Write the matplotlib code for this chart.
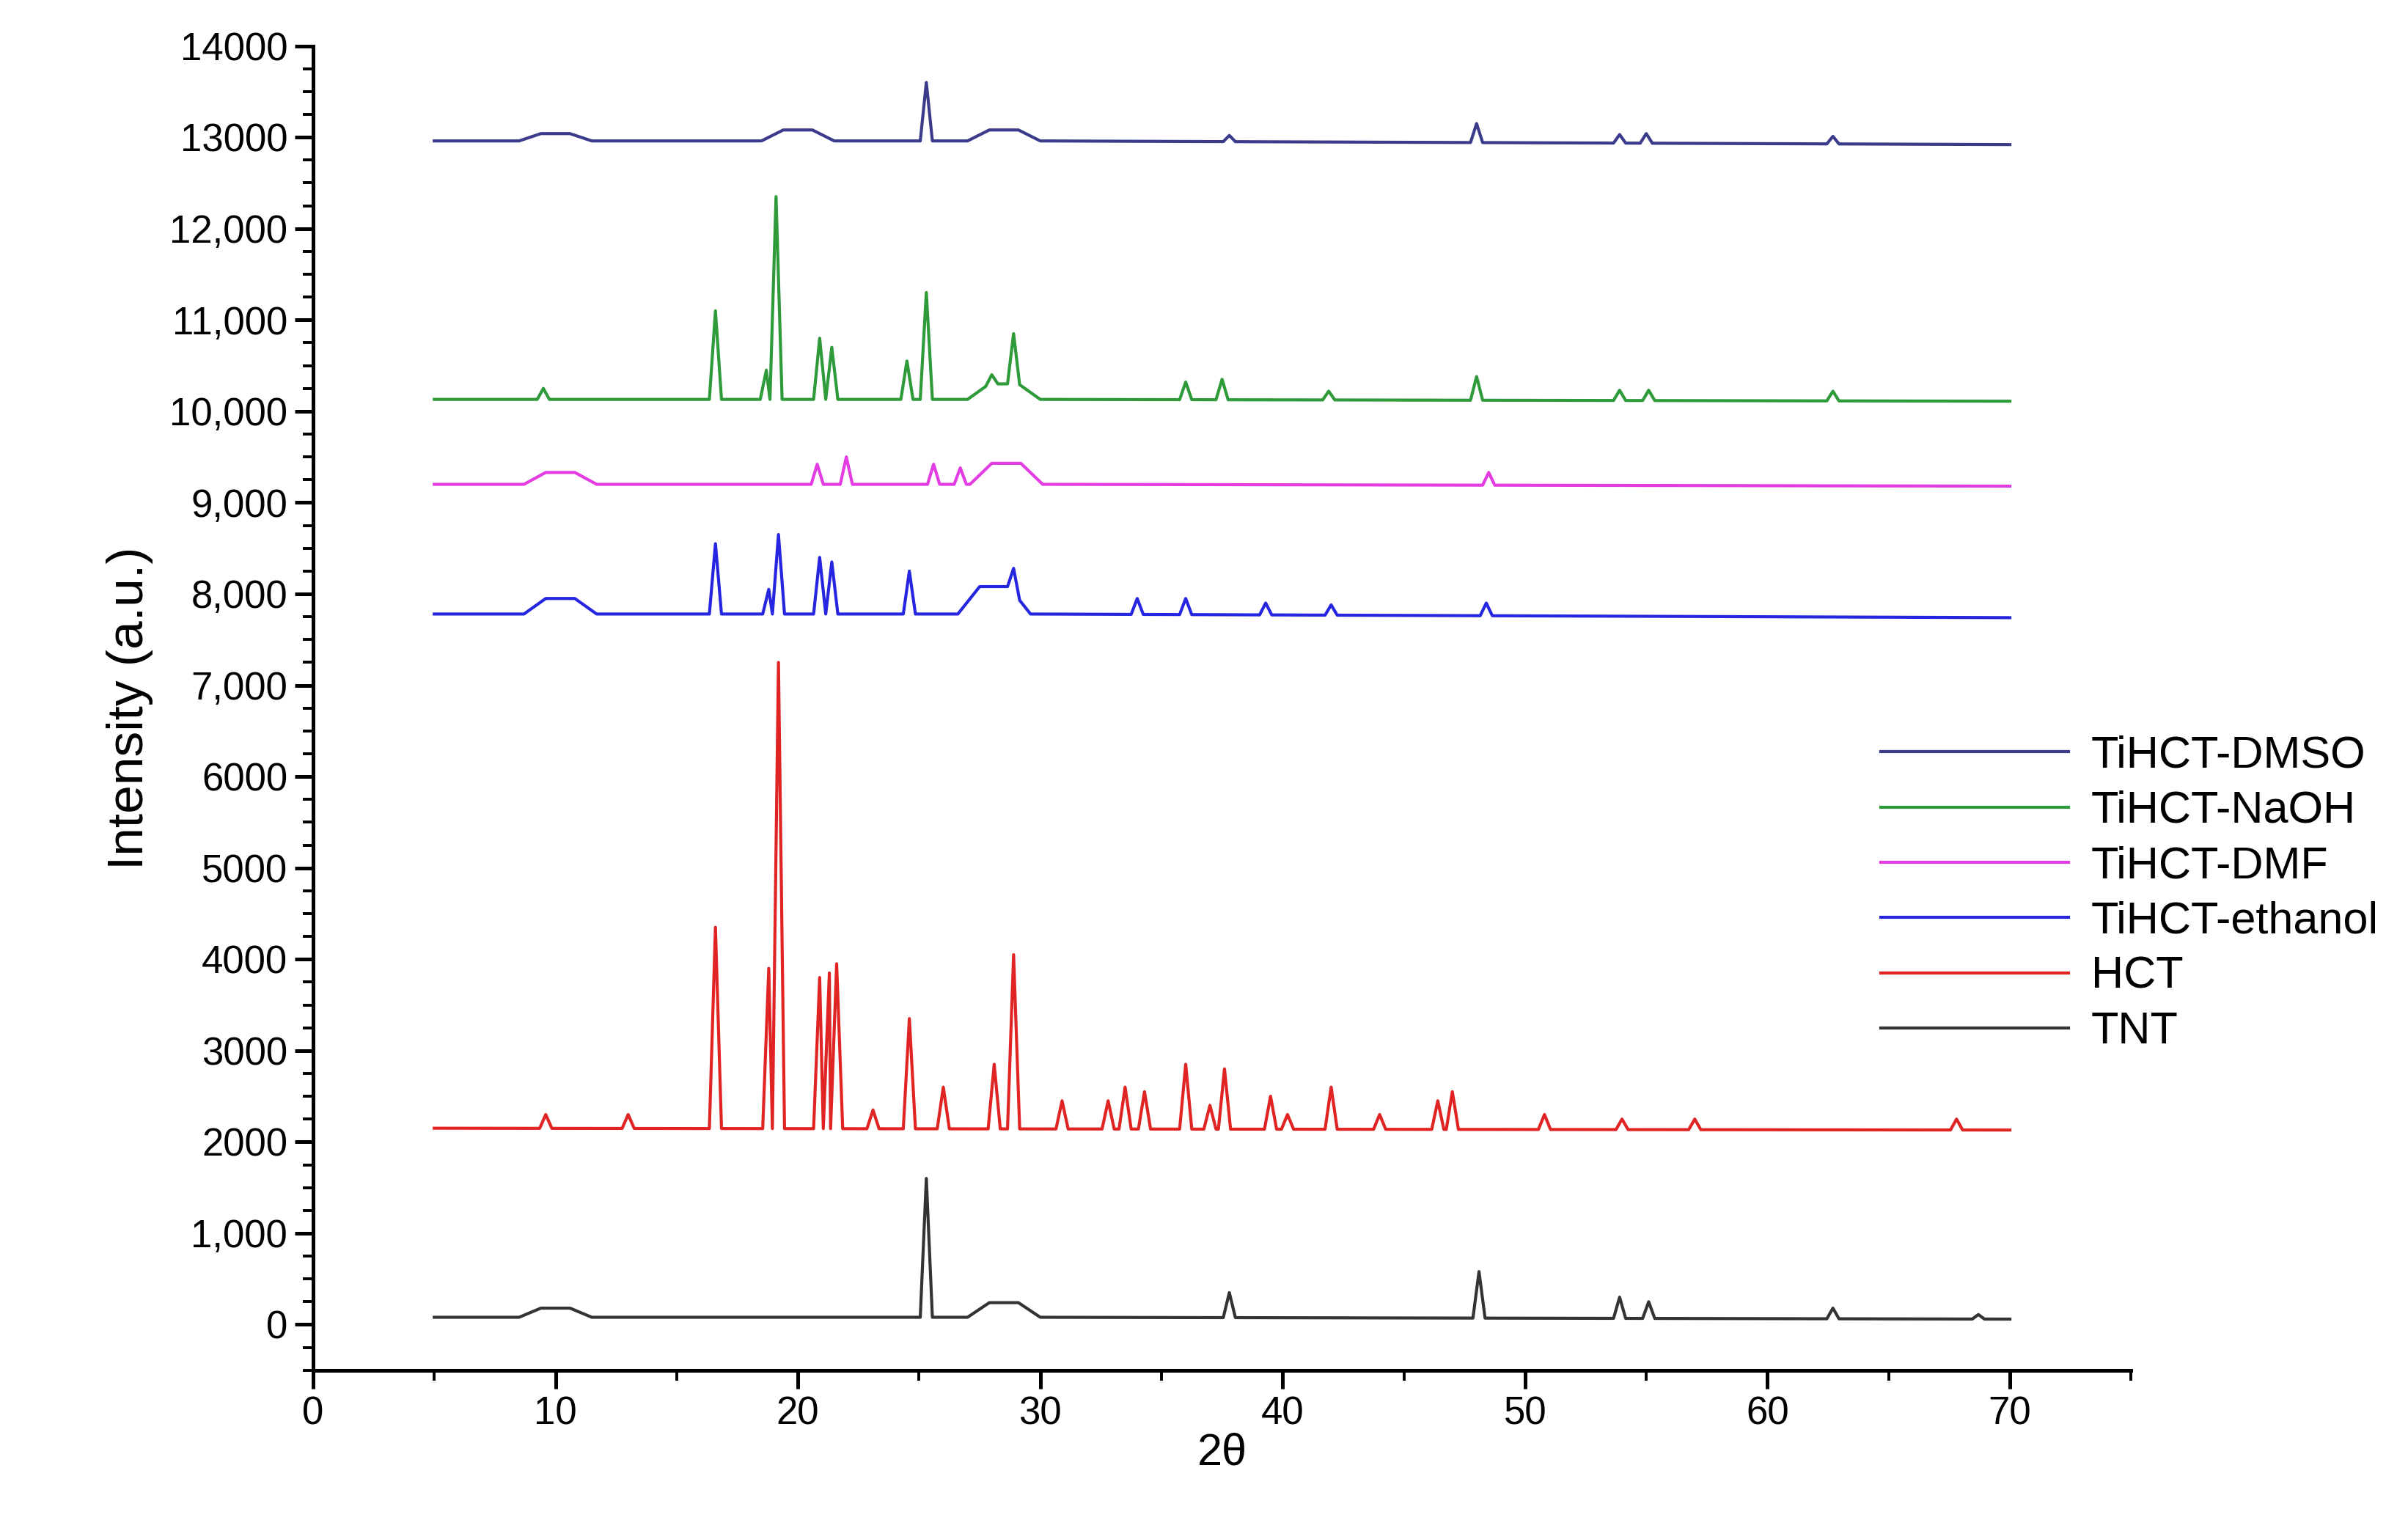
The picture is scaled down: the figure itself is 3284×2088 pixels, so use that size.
import matplotlib.pyplot as plt
import numpy as np

plt.rcParams['font.family'] = ['Liberation Sans', 'DejaVu Sans']

labels = ["TiHCT-DMSO", "TiHCT-NaOH", "TiHCT-DMF", "TiHCT-ethanol", "HCT", "TNT"]
colors = ["#3b3b8c", "#2e9a3a", "#e23ce2", "#2626e0", "#e02424", "#333333"]
baselines = [12960, 10130, 9200, 7780, 2150, 80]

# sharp peaks (2theta, intensity) per series
peaks = [
    [(25.3, 13600), (37.8, 13020), (48.0, 13150), (53.9, 13030), (55.0, 13040), (62.7, 13010)],
    [(9.5, 10250), (16.6, 11100), (18.7, 10450), (19.1, 12350), (20.9, 10800), (21.4, 10700),
     (24.5, 10550), (25.3, 11300), (28.0, 10400), (28.9, 10850), (36.0, 10320), (37.5, 10350),
     (41.9, 10220), (48.0, 10380), (53.9, 10230), (55.1, 10230), (62.7, 10220)],
    [(20.8, 9420), (22.0, 9500), (25.6, 9420), (26.7, 9380), (48.5, 9330)],
    [(16.6, 8550), (18.8, 8050), (19.2, 8650), (20.9, 8400), (21.4, 8350), (24.6, 8250),
     (28.9, 8280), (34.0, 7950), (36.0, 7950), (39.3, 7900), (42.0, 7880), (48.4, 7900)],
    [(9.6, 2300), (13.0, 2300), (16.6, 4350), (18.8, 3900), (19.2, 7250), (20.9, 3800),
     (21.3, 3850), (21.6, 3950), (23.1, 2350), (24.6, 3350), (26.0, 2600), (28.1, 2850),
     (28.9, 4050), (30.9, 2450), (32.8, 2450), (33.5, 2600), (34.3, 2550), (36.0, 2850),
     (37.0, 2400), (37.6, 2800), (39.5, 2500), (40.2, 2300), (42.0, 2600), (44.0, 2300),
     (46.4, 2450), (47.0, 2550), (50.8, 2300), (54.0, 2250), (57.0, 2250), (67.8, 2250)],
    [(25.3, 1600), (37.8, 350), (48.1, 580), (53.9, 300), (55.1, 250), (62.7, 180), (68.7, 110)],
]
# broad humps (2theta, intensity)
humps = [
    [(10.0, 13040), (20.0, 13080), (28.5, 13080)],
    [(28.5, 10300)],
    [(10.2, 9330), (28.6, 9430)],
    [(10.2, 7950), (28.1, 8080)],
    [],
    [(10.0, 180), (28.5, 240)],
]
end_values = [12920, 10110, 9180, 7740, 2130, 60]

fig = plt.figure(figsize=(16.42, 10.44), dpi=200)
ax = fig.add_axes([0.130, 0.105, 0.755, 0.865])

for lab, col, base, pk, hm, end in zip(labels, colors, baselines, peaks, humps, end_values):
    hump_pts = [(5, base), (70, end)]
    for p, h in hm:
        hump_pts += [(p - 1.5, base), (p - 0.6, h), (p + 0.6, h), (p + 1.5, base)]
    hump_pts.sort()
    hx = [a for a, b in hump_pts]
    hy = [b for a, b in hump_pts]
    pts = list(hump_pts)
    for p, h in pk:
        # feet of the peak sit on the local background (hump or baseline)
        pts = [(a, b) for a, b in pts if not (p - 0.25 < a < p + 0.25)]
        pts += [(p - 0.25, np.interp(p - 0.25, hx, hy)), (p, h),
                (p + 0.25, np.interp(p + 0.25, hx, hy))]
        pts.sort()
    x = [a for a, b in pts]
    y = [b for a, b in pts]
    ax.plot(x, y, color=col, lw=1.5, label=lab)

yticks = np.arange(0, 15000, 1000)
ylabels = ["0", "1,000", "2000", "3000", "4000", "5000", "6000", "7,000", "8,000",
           "9,000", "10,000", "11,000", "12,000", "13000", "14000"]
ax.set_yticks(yticks)
ax.set_yticklabels(ylabels)
ax.set_yticks(np.arange(-500, 14100, 250), minor=True)
ax.set_xticks(np.arange(0, 71, 10))
ax.set_xticks(np.arange(0, 76, 5), minor=True)
ax.set_xlim(0, 75)
ax.set_ylim(-500, 14000)
ax.spines['top'].set_visible(False)
ax.spines['right'].set_visible(False)
for s in ax.spines.values():
    s.set_linewidth(1.8)
ax.tick_params(axis='both', which='major', labelsize=19, length=9, width=1.8)
ax.tick_params(axis='both', which='minor', length=5, width=1.4)
ax.set_xlabel("2θ", fontsize=22, labelpad=0)
ax.set_ylabel("Intensity (a.u.)", fontsize=25, labelpad=8)

ax.legend(loc='upper left', bbox_to_anchor=(0.84, 0.51), frameon=False, fontsize=22,
          handlelength=4.2, labelspacing=0.3, handletextpad=0.5)

fig.savefig("out.png", dpi=200)
